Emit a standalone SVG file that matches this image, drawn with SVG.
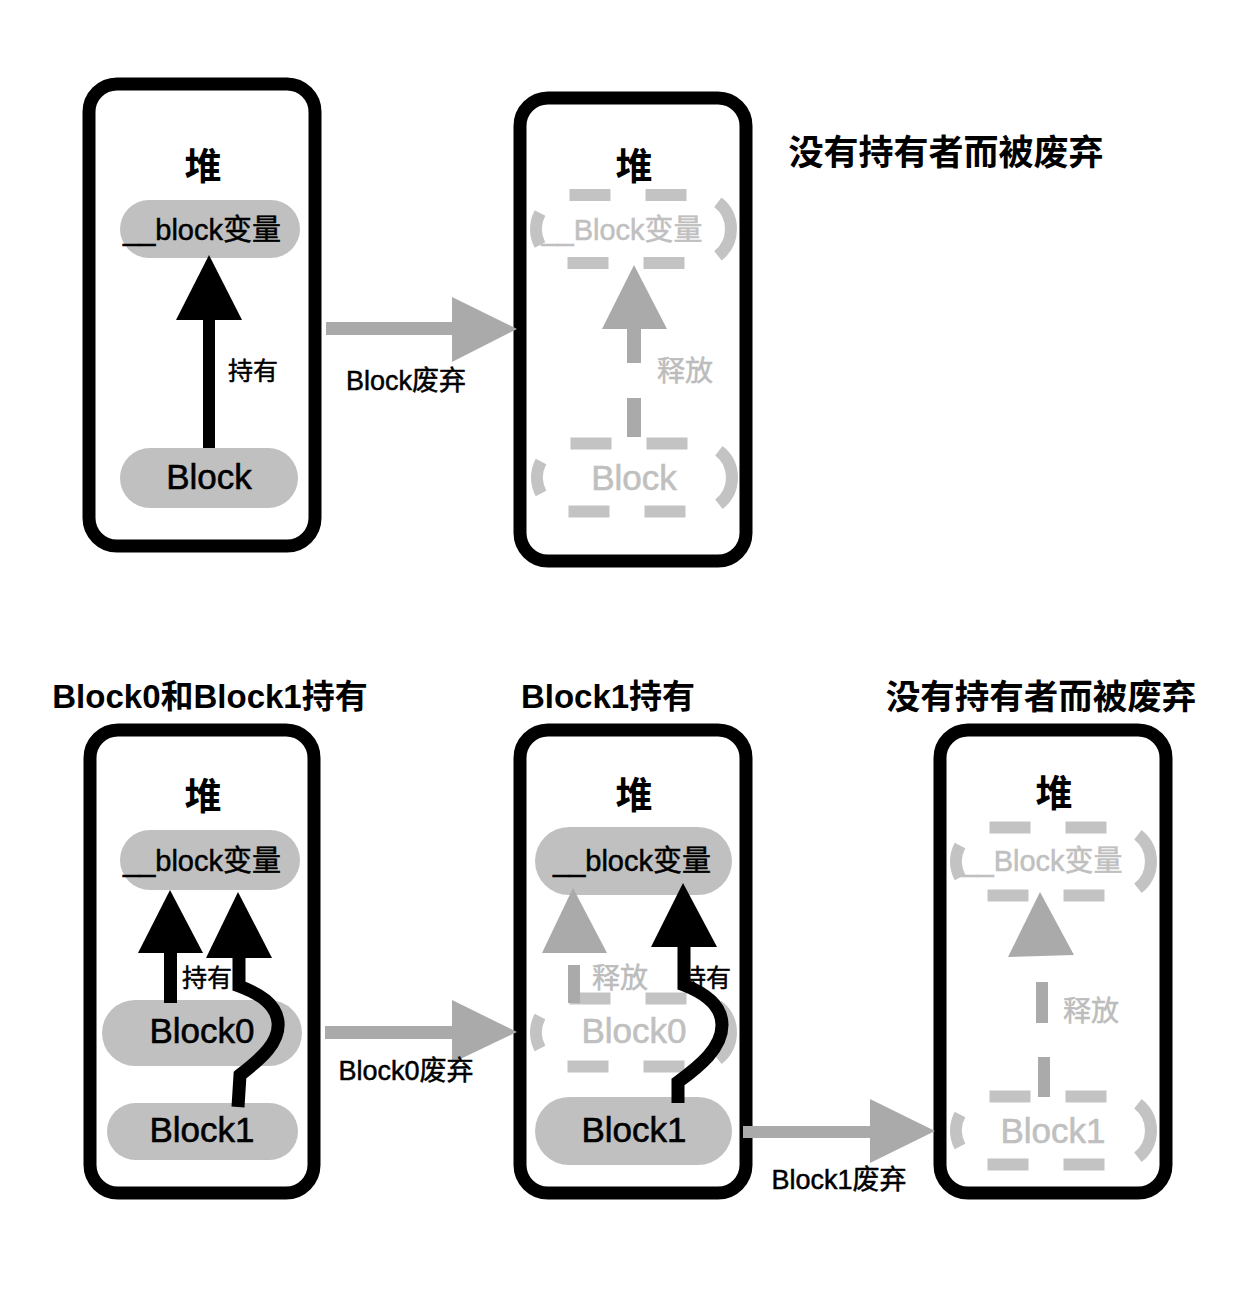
<svg xmlns="http://www.w3.org/2000/svg" xmlns:xlink="http://www.w3.org/1999/xlink" width="1239" height="1300" viewBox="0 0 1239 1300">
<style>
text{font-family:'Liberation Sans','Noto Sans CJK SC',sans-serif;}
.box{fill:#fff;stroke:#000;stroke-width:13;}
.pill{fill:#c0c0c0;}
.heap{font-size:37px;font-weight:bold;text-anchor:middle;fill:#000;}
.title{font-size:33px;font-weight:bold;fill:#000;text-anchor:middle;}
.var{font-size:29px;text-anchor:middle;fill:#000;stroke:#000;stroke-width:0.5;}
.blk{font-size:35px;text-anchor:middle;fill:#000;stroke:#000;stroke-width:0.6;}
.gtxt{fill:#c0c0c0;stroke:#c0c0c0;}
.lbl{font-size:25px;text-anchor:middle;fill:#000;stroke:#000;stroke-width:0.5;}
.rel{font-size:28px;text-anchor:middle;fill:#bcbcbc;stroke:#bcbcbc;stroke-width:0.5;}
.cap{font-size:27px;text-anchor:middle;fill:#000;stroke:#000;stroke-width:0.5;}
.dash{fill:none;stroke:#c3c3c3;stroke-width:12;}
.garr{fill:#aaaaaa;}
.barr{fill:#000;}
.bline{fill:none;stroke:#000;stroke-width:13;}
</style>
<defs>
<g id="dpill">
<path class="dash" d="M -64 -34 H -23 M 12 -34 H 53 M -66 34 H -25 M 10 34 H 51 M 84.4 -26.8 A 34 34 0 0 1 84.4 26.8 M -93.5 -16 A 34 34 0 0 0 -93.5 16"/>
</g>
</defs>
<rect width="1239" height="1300" fill="#fff"/>

<g id="title-top"><text class="title" x="946" y="165" style="font-size:35px">没有持有者而被废弃</text></g>
<g id="title-b1"><text class="title" x="210" y="708">Block0和Block1持有</text></g>
<g id="title-b2"><text class="title" x="608" y="708">Block1持有</text></g>
<g id="title-b3"><text class="title" x="1041" y="709" style="font-size:34.5px">没有持有者而被废弃</text></g>

<!-- Box 1 -->
<g id="heap1">
<rect class="box" x="89" y="84" width="226" height="462" rx="28"/>
<text class="heap" x="203" y="180">堆</text>
</g>
<g id="heap1-var"><rect class="pill" x="120" y="200" width="180" height="58" rx="29"/><text class="var" x="202" y="240">__block变量</text></g>
<g id="heap1-block"><rect class="pill" x="120" y="448" width="178" height="60" rx="30"/><text class="blk" x="209" y="489">Block</text></g>

<!-- Box 2 -->
<g id="heap2">
<rect class="box" x="520" y="98" width="226" height="463" rx="28"/>
<text class="heap" x="634" y="180">堆</text>
</g>
<g id="heap2-var"><use xlink:href="#dpill" transform="translate(633.5 229)"/><text class="var gtxt" x="622" y="240">__Block变量</text></g>
<g id="heap2-block"><use xlink:href="#dpill" transform="translate(634.5 477.5)"/><text class="blk gtxt" x="634" y="490">Block</text></g>

<!-- Box 3 -->
<g id="heap3">
<rect class="box" x="90" y="730" width="224" height="463" rx="28"/>
<text class="heap" x="203" y="810">堆</text>
</g>
<g id="heap3-var"><rect class="pill" x="120" y="830" width="180" height="60" rx="30"/><text class="var" x="202" y="871">__block变量</text></g>
<g id="heap3-block0"><rect class="pill" x="102" y="1000" width="200" height="66" rx="33"/><text class="blk" x="202" y="1043">Block0</text></g>
<g id="heap3-block1"><rect class="pill" x="107" y="1103" width="191" height="57" rx="28.5"/><text class="blk" x="202" y="1142">Block1</text></g>

<!-- Box 4 -->
<g id="heap4">
<rect class="box" x="520" y="730" width="226" height="463" rx="28"/>
<text class="heap" x="634" y="809">堆</text>
</g>
<g id="heap4-var"><rect class="pill" x="535" y="827" width="197" height="68" rx="34"/><text class="var" x="632" y="871">__block变量</text></g>
<g id="heap4-block0"><use xlink:href="#dpill" transform="translate(633.5 1032.5)"/><text class="blk gtxt" x="634" y="1043">Block0</text></g>
<g id="heap4-block1"><rect class="pill" x="535" y="1097" width="197" height="68" rx="34"/><text class="blk" x="634" y="1142">Block1</text></g>

<!-- Box 5 -->
<g id="heap5">
<rect class="box" x="940" y="730" width="226" height="463" rx="28"/>
<text class="heap" x="1054" y="807">堆</text>
</g>
<g id="heap5-var"><use xlink:href="#dpill" transform="translate(1053.5 861.5)"/><text class="var gtxt" x="1042" y="871">__Block变量</text></g>
<g id="heap5-block1"><use xlink:href="#dpill" transform="translate(1053.5 1130.5)"/><text class="blk gtxt" x="1053" y="1143">Block1</text></g>

<g id="connectors">
<!-- box1 hold -->
<rect class="barr" x="203" y="318" width="12" height="130"/>
<polygon class="barr" points="209,255 176,320 242,320"/>
<text class="lbl" x="253" y="380">持有</text>
<!-- box2 release -->
<polygon class="garr" points="634,265 602,329 667,329"/>
<rect class="garr" x="627" y="328" width="14" height="35"/>
<rect class="garr" x="627" y="398" width="14" height="39"/>
<text class="rel" x="685" y="381">释放</text>
<!-- arrow top -->
<rect class="garr" x="326" y="322" width="128" height="13"/>
<polygon class="garr" points="452,297 517,329 452,362"/>
<text class="cap" x="406" y="390">Block废弃</text>
<!-- box3 holds -->
<rect class="barr" x="164" y="951" width="13" height="52"/>
<polygon class="barr" points="170,890 138,953 203,953"/>
<path class="bline" d="M 238 1107 L 240 1075 C 262 1058 280 1042 278 1022 C 276 1004 260 994 239 986 L 239 956"/>
<polygon class="barr" points="238,892 206,958 272,958"/>
<text class="lbl" x="207" y="987">持有</text>
<!-- box4 -->
<polygon class="garr" points="573,888 542,953 607,953"/>
<rect class="garr" x="568" y="965" width="12" height="38"/>
<text class="rel" x="620" y="988">释放</text>
<text class="lbl" x="706" y="987">持有</text>
<path class="bline" d="M 678 1103 L 678 1082 C 700 1066 722 1048 722 1025 C 722 1004 702 992 684 985 L 684 945"/>
<polygon class="barr" points="683,883 651,947 717,947"/>
<!-- box5 -->
<polygon class="garr" points="1040,892 1008,957 1074,955"/>
<rect class="garr" x="1036" y="982" width="12" height="41"/>
<rect class="garr" x="1038" y="1057" width="12" height="40"/>
<text class="rel" x="1091" y="1021">释放</text>
<!-- arrow bottom 1 -->
<rect class="garr" x="325" y="1026" width="128" height="13"/>
<polygon class="garr" points="452,1000 517,1032 452,1063"/>
<text class="cap" x="406" y="1080">Block0废弃</text>
<!-- arrow bottom 2 -->
<rect class="garr" x="743" y="1126" width="128" height="12"/>
<polygon class="garr" points="870,1099 935,1131 870,1163"/>
<text class="cap" x="839" y="1189">Block1废弃</text>
</g>
</svg>
